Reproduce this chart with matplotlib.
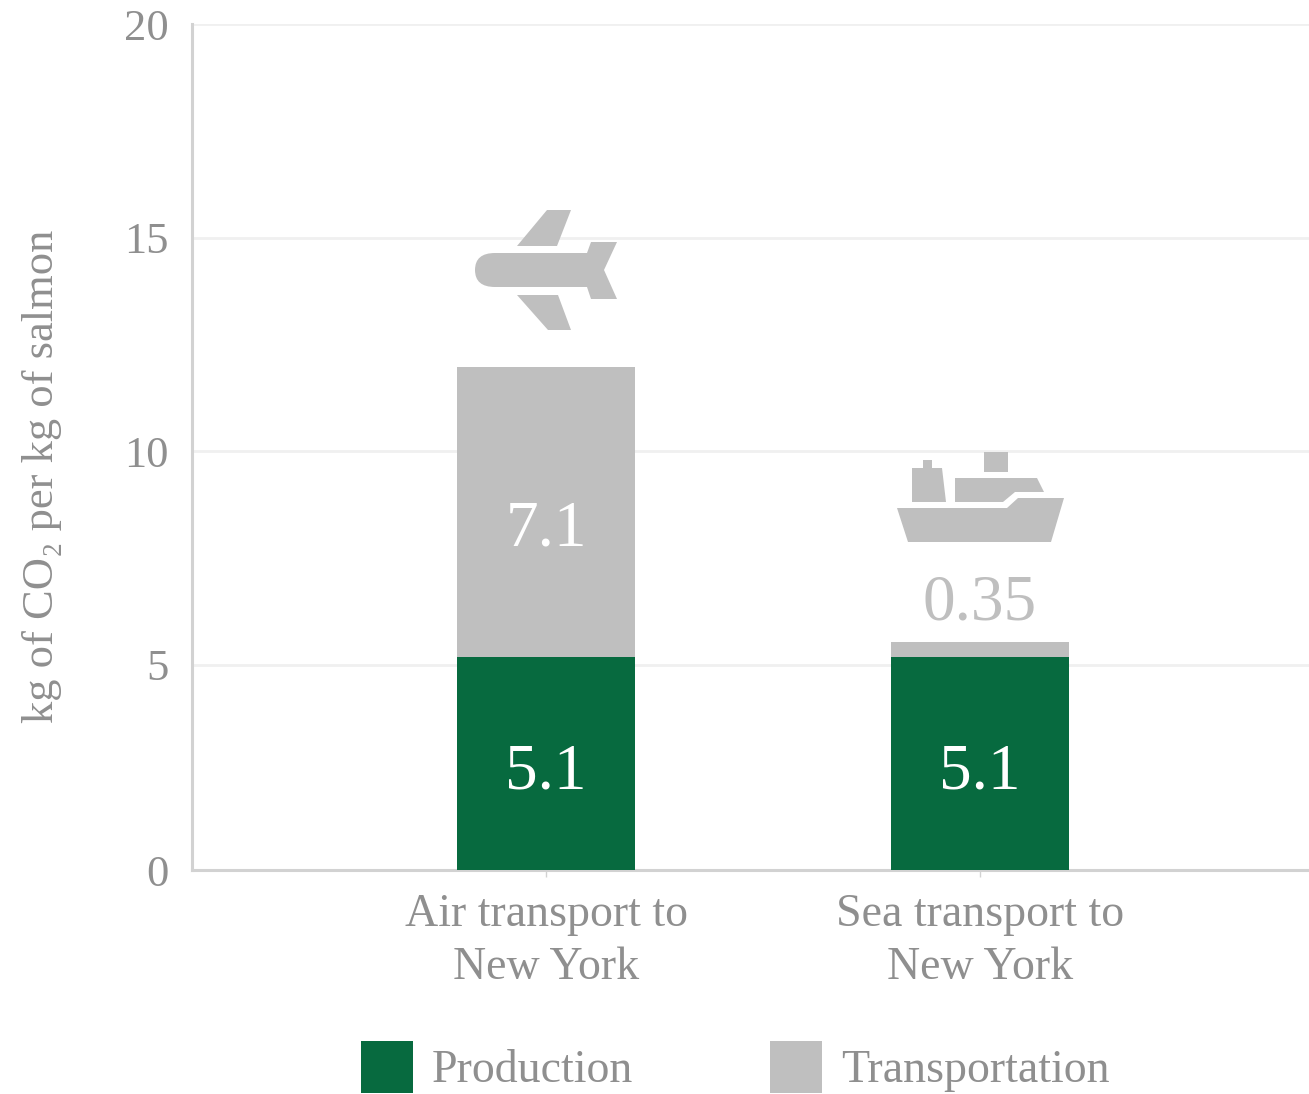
"""Carbon footprint of salmon by transport mode, stacked bars with icons."""
import matplotlib

matplotlib.use("Agg")
import matplotlib.pyplot as plt
from matplotlib.patches import PathPatch
from matplotlib.path import Path

CATEGORIES = ["Air transport to\nNew York", "Sea transport to\nNew York"]
PRODUCTION = [5.18, 5.18]
TRANSPORT = [6.79, 0.35]
PRODUCTION_LABELS = ["5.1", "5.1"]
TRANSPORT_LABELS = ["7.1", "0.35"]
Y_TICK_LABELS = ["0", "5", "10", "15", "20"]
Y_TICKS = [5, 10, 15, 20]

_WIDTH_PX = 1309
_HEIGHT_PX = 1094
_DPI = 100
_GREEN = "#076A3F"
_GREY = "#BFBFBF"
_TEXT = "#8F8F8F"
_AXIS = "#D2D2D2"
_GRID = "#F0F0F0"
# the source picture cuts the axis slightly above zero, the 0 sits on that edge
_Y_FLOOR = 0.19

plt.rcParams["font.family"] = ["Liberation Serif", "DejaVu Serif"]

# icon outlines in reference pixels, drawn as filled shapes on the figure
_PLANE_WING_TOP = [(547, 210), (571, 210), (557, 246), (517, 246)]
_PLANE_WING_BOTTOM = [(517, 295), (558, 295), (571, 330), (548, 330)]
_SHIP_HULL = [(897, 508), (1007, 508), (1018, 498), (1064, 498), (1051, 542), (908, 542)]
_SHIP_DECK = [(955, 478), (1037, 478), (1044, 492), (1015, 492), (1003, 502), (955, 502)]
_SHIP_FUNNEL = [(912, 468), (923, 468), (923, 460), (932, 460), (932, 468),
                (942, 468), (946, 502), (912, 502)]
_SHIP_BOX = [(984, 452), (1008, 452), (1008, 472), (984, 472)]


def to_fig(x, y):
    """Convert reference pixel coordinates to figure fractions."""
    return x / _WIDTH_PX, 1 - y / _HEIGHT_PX


def add_shape(fig, vertices, codes=None):
    """Add a filled grey icon part to the figure."""
    points = [to_fig(x, y) for x, y in vertices]
    if codes is None:
        points = points + [points[0]]
        codes = [Path.MOVETO] + [Path.LINETO] * (len(points) - 2) + [Path.CLOSEPOLY]
    fig.add_artist(PathPatch(Path(points, codes), facecolor=_GREY, edgecolor="none",
                             transform=fig.transFigure, zorder=5))


def add_plane(fig):
    """Draw the plane icon above the air transport bar."""
    add_shape(fig, _PLANE_WING_TOP)
    add_shape(fig, _PLANE_WING_BOTTOM)
    body = [(495, 253), (587, 253), (591, 242), (617, 242), (604, 270), (617, 299),
            (591, 299), (587, 287), (495, 287), (475, 287), (475, 270), (475, 253),
            (495, 253)]
    codes = [Path.MOVETO] + [Path.LINETO] * 8 + [Path.CURVE3] * 4
    add_shape(fig, body, codes)


def add_ship(fig):
    """Draw the ship icon above the sea transport bar."""
    for shape in (_SHIP_HULL, _SHIP_DECK, _SHIP_FUNNEL, _SHIP_BOX):
        add_shape(fig, shape)


def main():
    fig = plt.figure(figsize=(_WIDTH_PX / _DPI, _HEIGHT_PX / _DPI), dpi=_DPI)
    left, bottom = to_fig(192, 870)
    ax = fig.add_axes([left, bottom, 1 - left, (870 - 24) / _HEIGHT_PX])

    x = range(len(CATEGORIES))
    bars_prod = ax.bar(x, PRODUCTION, width=0.41, color=_GREEN, label="Production", zorder=3)
    bars_tran = ax.bar(x, TRANSPORT, width=0.41, bottom=PRODUCTION, color=_GREY,
                       label="Transportation", zorder=3)

    ax.set_xlim(-0.816, 1.758)
    ax.set_ylim(_Y_FLOOR, 20)
    ax.set_yticks([_Y_FLOOR] + Y_TICKS, Y_TICK_LABELS)
    ax.set_xticks(list(x), CATEGORIES)
    ax.grid(axis="y", color=_GRID, linewidth=2, zorder=0)
    ax.set_axisbelow(True)
    for side in ("top", "right"):
        ax.spines[side].set_visible(False)
    for side in ("left", "bottom"):
        ax.spines[side].set_color(_AXIS)
        ax.spines[side].set_linewidth(2.2)
    ax.tick_params(axis="y", length=0, pad=17, labelsize=32, labelcolor=_TEXT)
    ax.tick_params(axis="x", length=5, width=1, color=_AXIS, pad=12, labelsize=33,
                   labelcolor=_TEXT)
    for label in ax.get_xticklabels():
        label.set_linespacing(1.32)

    ax.set_ylabel("kg of CO₂ per kg of salmon", fontsize=32, color=_TEXT)
    ax.yaxis.set_label_coords((62 - 192) / (_WIDTH_PX - 192), (870 - 476) / (870 - 24))

    for i, (bar, text) in enumerate(zip(bars_prod, PRODUCTION_LABELS)):
        ax.annotate(text, (i, bar.get_height() / 2), xytext=(0, -4),
                    textcoords="offset points", ha="center", va="center",
                    color="white", fontsize=47, zorder=4)
    ax.annotate(TRANSPORT_LABELS[0], (0, PRODUCTION[0] + TRANSPORT[0] / 2), xytext=(0, -13),
                textcoords="offset points", ha="center", va="center",
                color="white", fontsize=47, zorder=4)
    top_sea = bars_tran[1].get_y() + bars_tran[1].get_height()
    ax.annotate(TRANSPORT_LABELS[1], (1, top_sea), xytext=(0, 6),
                textcoords="offset points", ha="center", va="bottom",
                color=_GREY, fontsize=47, zorder=4)

    add_plane(fig)
    add_ship(fig)

    fig.legend(handles=[bars_prod, bars_tran], loc="lower left",
               bbox_to_anchor=to_fig(361, 1093), frameon=False, ncol=2, fontsize=33,
               labelcolor=_TEXT, borderpad=0, borderaxespad=0, handlelength=1.135,
               handleheight=1.37, handletextpad=0.415, columnspacing=2.99)

    fig.savefig("out.png", dpi=_DPI)


if __name__ == "__main__":
    main()
